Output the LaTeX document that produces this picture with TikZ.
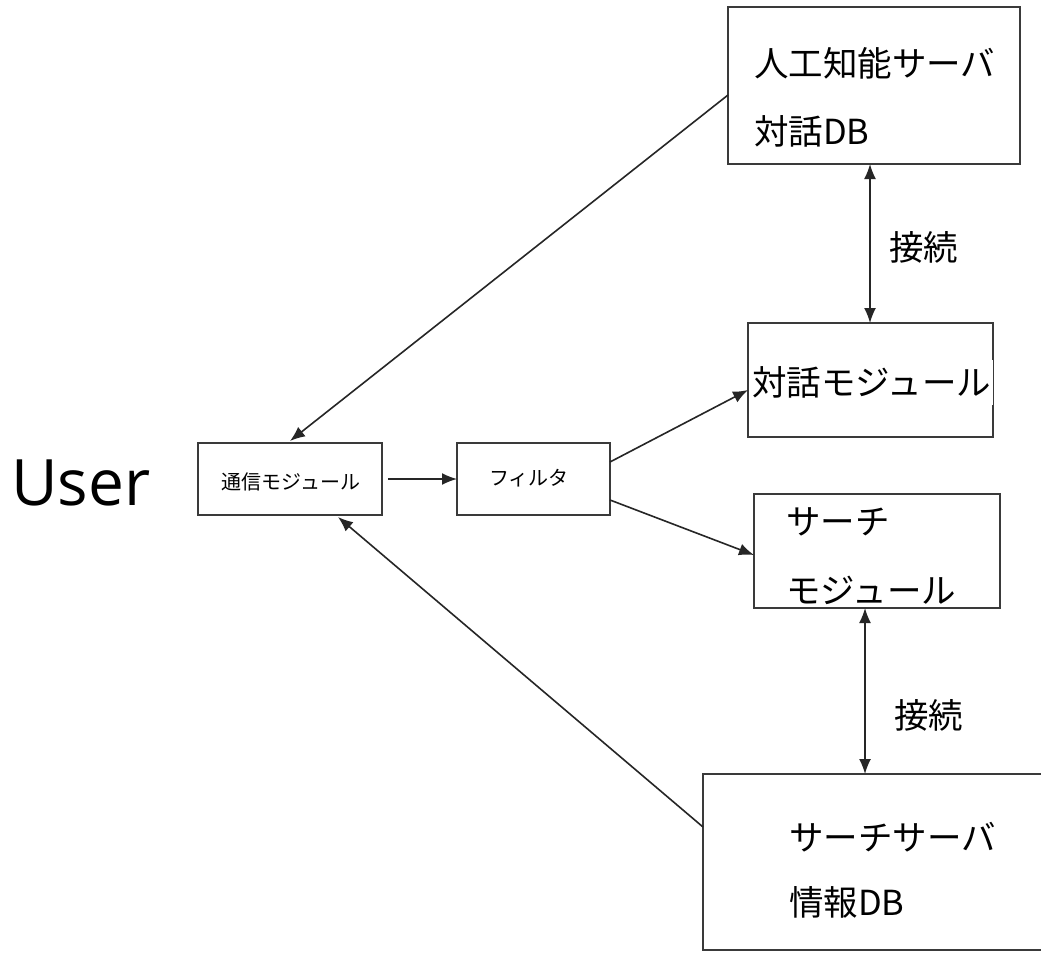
\documentclass[tikz,border=0pt]{standalone}
\usepackage{fontspec}
\setmainfont{Open Sans}
\newfontfamily\jp{Noto Sans CJK JP}
\usetikzlibrary{arrows.meta,positioning}
\definecolor{edge}{HTML}{3A3A3A}
\tikzset{
  box/.style={draw=edge,line width=2pt,rectangle,inner sep=0pt,outer sep=0pt},
  big/.style={font=\jp\fontsize{34.5}{34.5}\selectfont,inner sep=0pt,anchor=west},
  small/.style={font=\jp\fontsize{20}{20}\selectfont,inner sep=0pt},
  arr/.style={line width=1.6pt,draw=black!85,-{Latex[length=15pt,width=12pt]}},
  darr/.style={line width=1.6pt,draw=black!85,{Latex[length=15pt,width=12pt]}-{Latex[length=15pt,width=12pt]}}
}
\begin{document}
\begin{tikzpicture}[x=1pt,y=-1pt]
\useasboundingbox[fill=white] (0,0) rectangle (1041,953);
% boxes
\node[box,minimum width=292pt,minimum height=157pt] (ai) at (874,85.5) {};
\node[box,minimum width=245pt,minimum height=114pt] (dm) at (870.5,380) {};
\node[box,minimum width=246pt,minimum height=114pt] (sm) at (877,551) {};
\node[box,minimum width=343pt,minimum height=176pt] (ss) at (874.5,862) {};
\node[box,minimum width=184pt,minimum height=72pt] (comm) at (290,479) {};
\node[box,minimum width=153pt,minimum height=72pt] (filt) at (533.5,479) {};
% texts
\node[big] (ait1) at (754,63) {人工知能サーバ};
\node[big] (ait2) at (754,131) {対話DB};
\node[big,fill=white,inner xsep=2pt,minimum height=45pt] (dmt) at (750,382) {対話モジュール};
\node[big] (smt1) at (786,522) {サーチ};
\node[big] (smt2) at (786,590) {モジュール};
\node[big] (sst1) at (789,837) {サーチサーバ};
\node[big] (sst2) at (789,902) {情報DB};
\node[small] (commt) at (291,482) {通信モジュール};
\node[small] (filtt) at (529,478) {フィルタ};
\node[big] (c1) at (889,247) {接続};
\node[big] (c2) at (894,715) {接続};
\node[font=\fontsize{64}{64}\selectfont,inner sep=0pt,anchor=west] (user) at (11,483) {User};
% connectors
\draw[arr] ([yshift=-9.5pt]ai.west) -- ([yshift=2pt]comm.north);
\draw[arr,shorten <=6pt] (comm.east) -- (filt.west);
\draw[arr] ([yshift=17pt]filt.east) -- ([yshift=-10pt]dm.west);
\draw[arr] ([yshift=-21pt]filt.east) -- ([yshift=-4pt]sm.west);
\draw[arr] ([yshift=35pt]ss.west) -- ([xshift=48pt,yshift=-2pt]comm.south);
\draw[darr] ([xshift=-4pt]ai.south) -- ([xshift=-0.5pt]dm.north);
\draw[darr] ([xshift=-12pt]sm.south) -- ([xshift=-9.5pt]ss.north);
\end{tikzpicture}
\end{document}
